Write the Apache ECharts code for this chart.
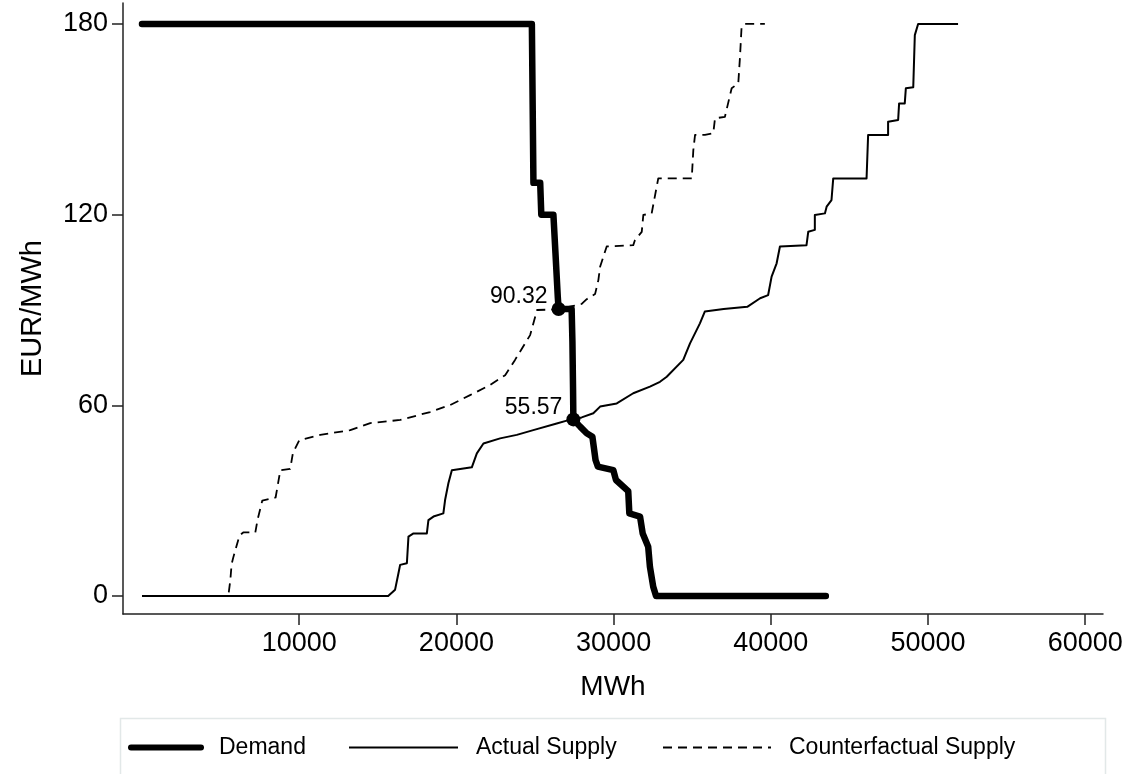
<!DOCTYPE html>
<html><head><meta charset="utf-8">
<script src="https://cdn.jsdelivr.net/npm/echarts@6/dist/echarts.min.js"></script>
<style>html,body{margin:0;padding:0;background:#fff;}#c{width:1135px;height:774px;}</style>
</head><body><div id="c"></div>
<script>
// Data ([MWh, EUR/MWh])
const demand = [[0,180],[24800,180],[24900,130],[25330,130],[25400,120],[26170,120],[26300,108],[26450,94],[26500,90.32],[27330,90.3],[27380,80],[27420,65],[27440,55.57],[27870,53.3],[28290,51.2],[28650,50.1],[28850,42.8],[29000,40.7],[29980,39.6],[30150,36.5],[30930,33],[31000,26],[31680,25],[31850,19.7],[32200,15.5],[32310,9.2],[32520,2.9],[32700,0],[43500,0]];
const actualSupply = [[0,0],[15660,0],[16100,2],[16310,7.1],[16420,9.8],[16850,10.3],[16950,18.7],[17270,19.7],[18120,19.7],[18220,23.9],[18540,25],[19170,26],[19280,30.2],[19490,35.5],[19710,39.6],[20980,40.5],[21300,44.9],[21720,48],[22780,49.6],[23840,50.7],[24890,52.2],[26380,54.3],[27020,55.2],[27440,55.57],[27970,56.2],[28710,57.5],[29140,59.6],[30200,60.6],[31250,63.8],[32310,65.9],[32950,67.4],[33380,69],[34430,74.3],[34860,79.5],[35490,85.8],[35800,89.5],[37000,90.3],[38500,91],[39320,93.7],[39830,94.7],[40050,100.5],[40370,104.7],[40580,110],[42270,110.4],[42380,114.6],[42800,115.2],[42800,119.9],[43440,120.4],[43550,122.5],[43860,124.6],[43970,131.4],[46090,131.4],[46190,145.1],[47460,145.1],[47460,149.2],[48100,149.8],[48160,155],[48520,155],[48590,159.8],[49060,160.1],[49160,176.5],[49270,177.1],[49370,180],[51910,180]];
const counterfactualSupply = [[0,0],[5490,0],[5620,5],[5700,10],[5800,12],[6200,19],[6440,20],[7210,20],[7350,24],[7650,30],[8500,31],[8800,39.6],[9430,40],[9600,45],[10000,49],[11340,50.7],[13250,52.2],[14520,54.4],[16430,55.4],[18330,57.9],[19600,60.1],[20870,63.2],[22140,66.4],[23100,69.5],[23730,74.3],[24690,82.1],[25130,90],[26380,90.2],[27440,91.3],[27970,91.9],[28290,93.4],[28820,95],[29030,99.4],[29140,103.6],[29560,110],[31250,110.4],[31360,112],[31790,114.6],[31890,119.9],[32420,120.4],[32740,128.8],[32840,131.4],[34970,131.4],[35070,140.3],[35180,145.1],[35810,145.1],[36340,145.6],[36450,150.3],[37080,150.8],[37510,159.8],[37930,161.3],[38040,169.7],[38140,179.1],[38350,180],[39620,180]];
const eqX = [26500, 27440];
const eqY = [90.32, 55.57];
const xTicks = [10000, 20000, 30000, 40000, 50000, 60000];
const yTicks = [0, 60, 120, 180];
const seriesNames = ['Demand', 'Actual Supply', 'Counterfactual Supply'];
const xName = 'MWh';
const yName = 'EUR/MWh';

const FONT = "'Liberation Sans', Arial, Helvetica, sans-serif";
const chart = echarts.init(document.getElementById('c'), null, {renderer: 'canvas'});
const axisLineCfg = {show: true, onZero: false, lineStyle: {color: '#222', width: 1.5}};
const tickStyle = {color: '#222', width: 1.5};
const legendBase = {
  top: 736, padding: 0, itemHeight: 14, itemGap: 0,
  itemStyle: {opacity: 0},
  textStyle: {fontSize: 23, fontFamily: FONT, color: '#000', padding: [0, 0, 0, 13]}
};
chart.setOption({
  animation: false,
  backgroundColor: '#fff',
  color: ['#000', '#000', '#000', '#000'],
  grid: {left: 123, right: 32, top: 3, bottom: 160, containLabel: false},
  xAxis: {
    type: 'value', min: -1208, max: 61130,
    axisLine: axisLineCfg,
    splitLine: {show: false},
    axisTick: {show: true, length: 11, lineStyle: tickStyle, customValues: xTicks},
    axisLabel: {customValues: xTicks, formatter: v => String(v), fontSize: 27, fontFamily: FONT, color: '#000', margin: 16},
    name: xName, nameLocation: 'middle', nameGap: 59,
    nameTextStyle: {fontSize: 28, fontFamily: FONT, color: '#000'}
  },
  yAxis: {
    type: 'value', min: -5.66, max: 186.6,
    axisLine: axisLineCfg,
    splitLine: {show: false},
    axisTick: {show: true, length: 11, lineStyle: tickStyle, customValues: yTicks},
    axisLabel: {customValues: yTicks, formatter: v => String(v), fontSize: 27, fontFamily: FONT, color: '#000', margin: 15},
    name: yName, nameLocation: 'middle', nameGap: 76, nameRotate: 90,
    nameTextStyle: {fontSize: 29, fontFamily: FONT, color: '#000'}
  },
  legend: [
    Object.assign({}, legendBase, {data: [seriesNames[0]], left: 128, itemWidth: 70, lineStyle: {width: 6, color: '#000'}}),
    Object.assign({}, legendBase, {data: [seriesNames[1]], left: 348, itemWidth: 109, lineStyle: {width: 2, color: '#000'}}),
    Object.assign({}, legendBase, {data: [seriesNames[2]], left: 662, itemWidth: 108, lineStyle: {width: 2, color: '#000', type: [9, 6]}})
  ],
  graphic: [{
    type: 'rect', left: 118, top: 716, silent: true,
    shape: {width: 985, height: 80},
    style: {fill: 'none', stroke: '#e2e8e8', lineWidth: 1.5}
  }],
  series: [
    {name: seriesNames[2], type: 'line', data: counterfactualSupply, showSymbol: false, symbol: 'none',
     itemStyle: {color: '#000'},
     lineStyle: {color: '#000', width: 1.8, type: [9, 6], join: 'round'}, z: 2},
    {name: seriesNames[1], type: 'line', data: actualSupply, showSymbol: false, symbol: 'none',
     itemStyle: {color: '#000'},
     lineStyle: {color: '#000', width: 2, join: 'round'}, z: 3},
    {name: seriesNames[0], type: 'line', data: demand, showSymbol: false, symbol: 'none',
     itemStyle: {color: '#000'},
     lineStyle: {color: '#000', width: 6.5, join: 'round', cap: 'round'}, z: 4},
    {name: 'eq', type: 'scatter', data: eqX.map((x, i) => [x, eqY[i]]), symbolSize: 14,
     itemStyle: {color: '#000', opacity: 1}, z: 5,
     label: {show: true, position: 'left', distance: 4, offset: [0, -12],
       formatter: p => p.value[1].toFixed(2), fontSize: 23, fontFamily: FONT, color: '#000'}}
  ]
});
</script></body></html>
